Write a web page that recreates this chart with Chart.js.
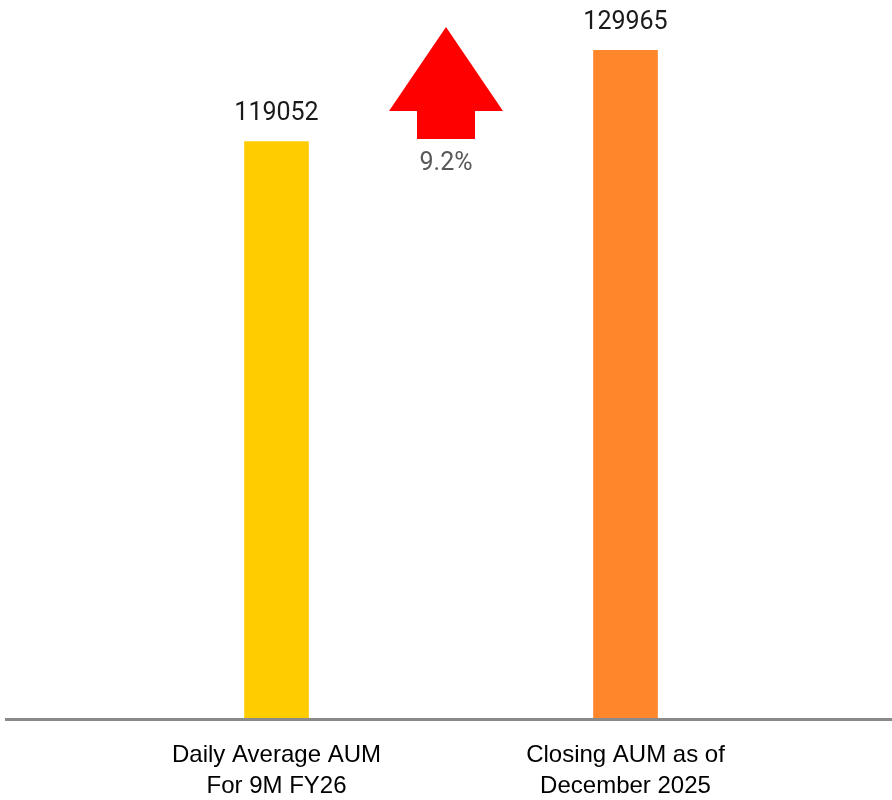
<!DOCTYPE html>
<html>
<head>
<meta charset="utf-8">
<script src="https://cdn.jsdelivr.net/npm/chart.js@4/dist/chart.umd.min.js"></script>
<style>
  html, body { margin: 0; padding: 0; background: #fff; }
  #wrap { width: 892px; height: 800px; position: relative; }
</style>
</head>
<body>
<div id="wrap"><canvas id="chart"></canvas></div>
<script>
const categories = [
    ['Daily Average AUM', 'For 9M FY26'],
    ['Closing AUM as of', 'December 2025']
];
const aumValues = [119052, 129965];
const barColors = ['#FFCC00', '#FF862B'];
const yMin = 50000;
const yMax = 136000;

const growth = ((aumValues[1] - aumValues[0]) / aumValues[0] * 100).toFixed(1) + '%';

// value labels above the bars
const valueLabels = {
    id: 'valueLabels',
    afterDatasetsDraw(chart) {
        const ctx = chart.ctx;
        const meta = chart.getDatasetMeta(0);
        ctx.save();
        ctx.font = '25px Roboto';
        ctx.fillStyle = '#1a1a1a';
        ctx.textAlign = 'center';
        ctx.textBaseline = 'middle';
        meta.data.forEach((bar, i) => {
            ctx.fillText(String(aumValues[i]), bar.x, bar.y - 28);
        });
        ctx.restore();
    }
};

// full width baseline + growth arrow
const decorations = {
    id: 'decorations',
    afterDraw(chart) {
        const ctx = chart.ctx;
        const area = chart.chartArea;
        ctx.save();
        ctx.fillStyle = '#8a8a8a';
        ctx.fillRect(5, area.bottom, chart.width - 5, 3);

        const meta = chart.getDatasetMeta(0);
        const cx = (meta.data[0].x + meta.data[1].x) / 2 - 5;
        const top = area.top + 27;
        ctx.fillStyle = '#FF0000';
        ctx.beginPath();
        ctx.moveTo(cx, top);
        ctx.lineTo(cx + 57, top + 84);
        ctx.lineTo(cx + 29, top + 84);
        ctx.lineTo(cx + 29, top + 112);
        ctx.lineTo(cx - 29, top + 112);
        ctx.lineTo(cx - 29, top + 84);
        ctx.lineTo(cx - 57, top + 84);
        ctx.closePath();
        ctx.fill();

        ctx.font = '25px Roboto';
        ctx.fillStyle = '#595959';
        ctx.textAlign = 'center';
        ctx.textBaseline = 'middle';
        ctx.fillText(growth, cx, top + 137);
        ctx.restore();
    }
};

const ctx = document.getElementById('chart').getContext('2d');

const chart = new Chart(ctx, {
    type: 'bar',
    data: {
        labels: categories,
        datasets: [{
            data: aumValues,
            backgroundColor: barColors,
            borderWidth: 0,
            barThickness: 64
        }]
    },
    options: {
        responsive: true,
        maintainAspectRatio: false,
        animation: false,
        layout: {
            padding: { top: 0, left: 102, right: 92, bottom: 0 }
        },
        plugins: {
            legend: { display: false },
            tooltip: { enabled: false }
        },
        scales: {
            x: {
                grid: { display: false, drawTicks: false },
                border: { display: false },
                afterFit(scale) { scale.height = 82; },
                ticks: {
                    color: '#000',
                    padding: 22,
                    maxRotation: 0,
                    font: { family: 'Liberation Sans', size: 24, lineHeight: 1.3 }
                }
            },
            y: {
                display: false,
                min: yMin,
                max: yMax
            }
        }
    },
    plugins: [valueLabels, decorations]
});
</script>
</body>
</html>
